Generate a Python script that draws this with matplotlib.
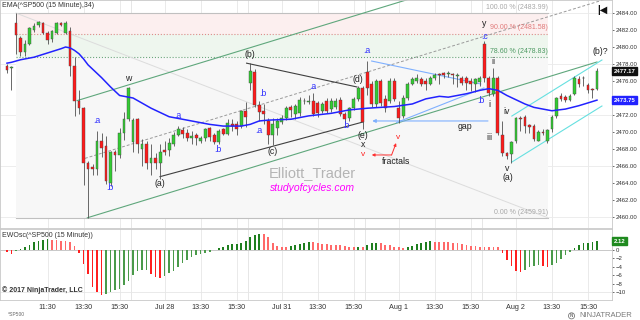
import numpy as np
import matplotlib
matplotlib.use('Agg')
import matplotlib.pyplot as plt
from matplotlib.transforms import blended_transform_factory

plt.rcParams['font.family'] = ['Liberation Sans', 'DejaVu Sans']

# ---------------- data (15-minute bars, ^SP500) ----------------
opens = [2477.8, 2477.5, 2482.8, 2481.1, 2479.4, 2480.4, 2482.0, 2482.6, 2482.8, 2481.6,
         2480.9, 2481.7, 2482.8, 2481.7, 2481.9, 2477.8, 2473.7, 2472.8, 2466.3, 2465.9,
         2465.6, 2468.9, 2468.3, 2464.0, 2467.7, 2467.3, 2469.9, 2471.5, 2468.8, 2471.5,
         2468.0, 2468.6, 2466.3, 2466.9, 2466.3, 2467.9, 2467.9, 2468.6, 2469.7, 2470.2,
         2469.9, 2469.3, 2469.6, 2469.0, 2469.3, 2470.5, 2469.6, 2468.8, 2470.3, 2469.8,
         2471.0, 2470.9, 2470.7, 2472.5, 2475.8, 2477.1, 2473.2, 2472.5, 2471.3, 2469.7,
         2470.5, 2471.2, 2471.6, 2472.9, 2472.1, 2472.2, 2473.7, 2473.5, 2473.7, 2473.4,
         2472.5, 2473.7, 2472.7, 2473.0, 2473.8, 2472.1, 2471.6, 2472.8, 2473.9, 2475.2,
         2477.1, 2475.7, 2473.3, 2476.0, 2473.9, 2473.7, 2476.0, 2472.8, 2471.9, 2474.0,
         2475.7, 2476.0, 2476.2, 2476.0, 2475.7, 2476.3, 2476.8, 2476.9, 2476.8, 2476.8,
         2476.6, 2476.4, 2476.4, 2476.0, 2475.6, 2475.9, 2480.4, 2476.3, 2474.5, 2476.4,
         2469.7, 2467.5, 2467.4, 2468.9, 2471.7, 2471.8, 2470.8, 2470.7, 2469.0, 2470.0,
         2468.9, 2470.3, 2471.9, 2474.2, 2474.1, 2473.8, 2474.5, 2476.2, 2476.4, 2475.5,
         2475.1, 2475.1]
highs = [2478.0, 2477.8, 2484.0, 2481.3, 2480.8, 2482.4, 2482.8, 2483.1, 2483.0, 2481.9,
         2482.0, 2483.0, 2483.0, 2483.1, 2482.3, 2478.8, 2474.9, 2472.9, 2466.6, 2466.2,
         2470.1, 2469.9, 2469.5, 2467.8, 2467.9, 2470.5, 2472.3, 2475.3, 2471.6, 2471.7,
         2469.2, 2469.0, 2468.6, 2467.5, 2468.6, 2469.0, 2469.3, 2470.0, 2470.7, 2470.6,
         2470.4, 2470.1, 2469.9, 2469.5, 2470.5, 2470.6, 2469.9, 2470.4, 2470.5, 2471.5,
         2471.5, 2471.3, 2472.6, 2473.5, 2478.1, 2477.4, 2473.7, 2473.3, 2471.6, 2471.6,
         2471.6, 2472.0, 2473.1, 2473.2, 2473.3, 2474.1, 2474.0, 2474.3, 2474.6, 2473.6,
         2473.5, 2474.0, 2474.0, 2474.0, 2474.1, 2472.4, 2473.0, 2474.1, 2475.4, 2475.4,
         2478.4, 2476.0, 2476.2, 2476.2, 2474.3, 2476.3, 2476.3, 2473.7, 2474.3, 2475.9,
         2476.5, 2476.8, 2476.5, 2476.3, 2476.6, 2477.0, 2476.9, 2477.1, 2477.2, 2476.9,
         2476.9, 2476.6, 2476.6, 2476.3, 2476.4, 2476.6, 2480.7, 2476.6, 2477.5, 2476.6,
         2471.3, 2467.7, 2469.0, 2471.8, 2471.9, 2472.0, 2471.0, 2471.0, 2470.2, 2470.3,
         2470.4, 2472.0, 2474.1, 2474.6, 2474.4, 2474.5, 2476.6, 2476.6, 2476.6, 2475.8,
         2475.2, 2477.5]
lows = [2477.0, 2475.0, 2479.2, 2478.9, 2479.0, 2480.2, 2481.8, 2482.4, 2481.5, 2480.4,
        2480.6, 2481.5, 2482.5, 2481.5, 2476.6, 2471.9, 2472.1, 2463.8, 2459.91, 2464.9,
        2465.0, 2467.1, 2463.9, 2463.7, 2465.4, 2466.9, 2469.1, 2471.3, 2467.6, 2467.5,
        2466.0, 2465.6, 2464.9, 2465.6, 2464.5, 2467.3, 2467.2, 2468.3, 2469.5, 2469.3,
        2469.0, 2468.6, 2468.5, 2468.7, 2469.0, 2468.9, 2468.6, 2468.6, 2469.6, 2469.6,
        2470.1, 2469.6, 2470.5, 2470.6, 2475.0, 2472.9, 2471.3, 2470.9, 2468.6, 2468.5,
        2469.6, 2470.9, 2471.4, 2471.8, 2471.5, 2471.9, 2473.3, 2473.3, 2471.9, 2471.8,
        2472.2, 2472.2, 2472.4, 2472.7, 2471.9, 2471.1, 2471.3, 2472.6, 2473.7, 2470.3,
        2474.3, 2473.0, 2473.0, 2473.1, 2472.4, 2473.4, 2473.6, 2471.1, 2471.6, 2473.8,
        2475.5, 2475.8, 2475.4, 2475.0, 2475.5, 2476.1, 2475.6, 2476.4, 2476.5, 2475.6,
        2475.3, 2475.5, 2474.9, 2474.8, 2474.7, 2475.4, 2475.9, 2474.2, 2474.2, 2469.6,
        2467.2, 2466.8, 2466.3, 2468.7, 2470.1, 2469.9, 2469.9, 2469.0, 2468.9, 2469.6,
        2468.7, 2470.0, 2471.7, 2473.6, 2473.5, 2473.6, 2474.3, 2475.3, 2475.4, 2474.6,
        2474.0, 2474.9]
closes = [2477.3, 2477.6, 2481.4, 2479.4, 2480.4, 2482.2, 2482.5, 2482.9, 2481.7, 2480.8,
          2481.9, 2482.8, 2482.6, 2482.8, 2477.8, 2473.7, 2472.8, 2466.3, 2465.7, 2465.6,
          2468.9, 2468.1, 2464.2, 2467.7, 2467.3, 2469.9, 2471.5, 2475.2, 2471.4, 2468.6,
          2468.6, 2466.3, 2466.9, 2466.3, 2467.7, 2467.6, 2468.7, 2469.7, 2470.3, 2469.8,
          2469.3, 2469.5, 2469.3, 2469.3, 2470.3, 2469.4, 2468.8, 2470.1, 2469.8, 2471.1,
          2470.7, 2470.3, 2472.5, 2471.8, 2477.2, 2473.2, 2472.4, 2472.1, 2469.7, 2470.9,
          2471.3, 2471.6, 2472.8, 2472.6, 2473.1, 2473.8, 2473.6, 2473.6, 2472.1, 2472.2,
          2473.3, 2472.5, 2473.7, 2473.7, 2472.1, 2471.5, 2472.8, 2473.9, 2475.2, 2471.2,
          2475.2, 2473.3, 2476.0, 2473.4, 2472.8, 2476.0, 2473.9, 2471.6, 2474.0, 2475.7,
          2476.2, 2476.4, 2475.7, 2475.6, 2476.3, 2476.7, 2476.7, 2476.7, 2476.9, 2476.7,
          2476.7, 2475.8, 2475.8, 2475.6, 2476.2, 2476.3, 2476.3, 2474.6, 2476.4, 2469.9,
          2467.5, 2467.2, 2468.8, 2471.6, 2471.5, 2470.7, 2470.6, 2469.2, 2470.0, 2469.9,
          2470.2, 2471.8, 2474.0, 2473.9, 2473.8, 2474.2, 2476.4, 2475.7, 2476.3, 2475.0,
          2475.0, 2477.17]

# EMA(34) at selected bars
ema_bars = [0, 1, 3, 6, 9, 12, 13, 14, 15, 16, 17, 18, 21, 23, 25, 27, 28, 31, 32, 34,
            36, 38, 42, 45, 48, 52, 54, 56, 58, 63, 67, 72, 76, 80, 83, 86, 90, 93, 96, 98,
            102, 105, 107, 109, 111, 113, 115, 117, 121, 124, 127, 131]
ema_vals = [2478.1, 2478.2, 2478.5, 2478.8, 2479.3, 2479.8, 2480.0, 2479.9, 2479.6, 2479.2,
            2478.6, 2477.9, 2476.4, 2475.3, 2474.3, 2474.1, 2474.0, 2473.1, 2472.8, 2472.3,
            2471.8, 2471.6, 2471.2, 2470.9, 2470.7, 2470.7, 2470.9, 2471.3, 2471.4, 2471.5,
            2471.9, 2472.2, 2472.6, 2472.8, 2472.9, 2473.0, 2473.3, 2473.9, 2474.2, 2474.1,
            2474.5, 2474.9, 2475.1, 2474.9, 2474.3, 2473.8, 2473.3, 2472.9, 2472.5, 2472.7,
            2473.1, 2473.75]

# Elliott wave oscillator (one value per bar)
ewo = [-0.4, -1.0, -0.3, 0.2, 0.6, 1.2, 2.0, 2.1, 2.4, 2.6,
       2.4, 2.3, 2.2, 2.1, 1.8, 1.0, -0.8, -3.3, -5.8, -8.7,
       -10.1, -10.6, -10.4, -10.0, -9.5, -9.2, -8.3, -7.4, -5.9, -4.9,
       -4.8, -4.7, -5.8, -6.4, -6.7, -6.2, -5.5, -4.9, -4.0, -3.2,
       -2.4, -1.7, -1.2, -1.0, -0.8, -0.4, 0.1, 0.4, 0.8, 1.1,
       1.4, 1.5, 1.7, 2.1, 3.2, 3.6, 3.8, 3.7, 3.0, 1.6,
       1.0, 0.8, 0.7, 0.95, 1.2, 1.4, 1.7, 2.0, 1.9, 1.7,
       1.45, 1.4, 1.2, 1.18, 1.15, 0.95, 0.8, 0.65, 0.8, 0.65,
       1.2, 1.6, 1.75, 1.6, 1.3, 1.2, 0.8, 0.6, 0.55, 0.8,
       0.95, 1.4, 1.75, 2.0, 2.05, 2.0, 1.98, 1.95, 1.92, 1.75,
       1.6, 1.4, 1.2, 0.95, 0.93, 0.8, 0.78, 0.75, 0.7, 0.6,
       -0.6, -2.4, -3.8, -4.9, -5.2, -4.8, -4.1, -3.8, -3.6, -3.8,
       -4.0, -3.6, -3.0, -2.2, -1.2, -0.4, 0.4, 1.2, 1.6, 1.65,
       1.8, 2.12]

tick_bars = [9, 17, 25, 35, 43, 51, 61, 69, 77, 87, 95, 103, 113, 121, 129]
tick_labels = ['11:30', '13:30', '15:30', 'Jul 28', '13:30', '15:30', 'Jul 31', '13:30',
               '15:30', 'Aug 1', '13:30', '15:30', 'Aug 2', '13:30', '15:30']
session_breaks = [27.5, 53.5, 79.5, 105.5]
price_ticks = [2460, 2462, 2464, 2466, 2468, 2470, 2472, 2474, 2476, 2478, 2480, 2482, 2484]
osc_ticks = [0, -2, -4, -6, -8, -10]

fib_levels = [2483.99, 2481.58, 2478.83, 2459.91]
fib_names = ['100.00 %', '90.00 %', '78.60 %', '0.00 %']

# ---------------- figure ----------------
fig = plt.figure(figsize=(6.4, 3.2), dpi=100)
AXW = 0.956
ax = fig.add_axes([0.0, 0.2875, AXW, 0.7125])
ax2 = fig.add_axes([0.0, 0.0625, AXW, 0.2219])

n = len(opens)
x = np.arange(n)
o = np.array(opens); h = np.array(highs); l = np.array(lows); c = np.array(closes)

XMIN, XMAX = -1.55, 134.3
for a in (ax, ax2):
    a.set_xlim(XMIN, XMAX)
    for s in a.spines.values():
        s.set_color('#c8c8c8')
        s.set_linewidth(0.6)
    for xb in tick_bars:
        a.axvline(xb, color='#e6e6e6', lw=0.6, zorder=0)
    for xb in session_breaks:
        a.axvline(xb, color='#e2e2e2', lw=0.6, zorder=0)
ax.set_ylim(2458.71, 2485.53)
ax2.set_ylim(-11.9, 5.0)

for gy in [2460, 2466, 2472, 2478, 2484]:
    ax.axhline(gy, color='#eaeaea', lw=0.6, zorder=0)

# Fibonacci zone
fx0, fx1 = 2, 120.1
ax.fill_between([fx0, fx1], fib_levels[1], fib_levels[0], color='#fcefef', zorder=0.5, lw=0)
ax.fill_between([fx0, fx1], fib_levels[2], fib_levels[1], color='#eef6ee', zorder=0.5, lw=0)
ax.fill_between([fx0, fx1], fib_levels[3], fib_levels[2], color='#f7f7f7', zorder=0.5, lw=0)
fib_line_colors = ['#c0c0c0', '#e08a8a', '#6aa87a', '#c0c0c0']
fib_line_styles = ['-', ':', ':', '-']
fib_text_colors = ['#a8a8a8', '#e07a7a', '#4f9a64', '#a8a8a8']
for lv, nm, lc, ls, tc in zip(fib_levels, fib_names, fib_line_colors, fib_line_styles, fib_text_colors):
    ax.plot([fx0, fx1], [lv, lv], color=lc, ls=ls, lw=0.8, zorder=1)
    ax.text(fx1, lv + 0.25, f'{nm} ({lv:.2f})', ha='right', va='bottom', fontsize=5,
            color=tc, zorder=6)
# fib anchor diagonal
ax.plot([fx0, fx1], [fib_levels[0], fib_levels[3]], color='#dcdcdc', lw=0.7, zorder=1)

# trend lines
def seg(p0, p1, **kw):
    ax.plot([p0[0], p1[0]], [p0[1], p1[1]], **kw)

green = dict(color='#5fa77c', lw=0.8, zorder=2)
slope = (2478.24 - 2459.91) / (131 - 17.83)
seg((17.83, 2459.91), (131.0, 2478.24), **green)
seg((15.6, 2473.7), (135.0, 2473.7 + slope * (135.0 - 15.6)), **green)
seg((17.3, 2466.9), (135.0, 2466.9 + slope * (135.0 - 17.3)),
    color='#9a9a9a', lw=0.7, ls=(0, (3, 2)), zorder=2)
seg((53.2, 2478.1), (77.7, 2475.3), color='#404040', lw=0.8, zorder=2)
seg((33.97, 2464.75), (79.04, 2471.18), color='#404040', lw=0.8, zorder=2)
seg((80.97, 2478.35), (105.2, 2475.65), color='#7fb0ff', lw=0.8, zorder=2)
seg((86.5, 2471.12), (105.9, 2475.18), color='#7fb0ff', lw=0.8, zorder=2)
seg((112.1, 2466.47), (132.1, 2473.06), color='#66e0e0', lw=0.8, zorder=2)
seg((112.1, 2471.88), (132.1, 2478.47), color='#66e0e0', lw=0.8, zorder=2)
ax.annotate('', xy=(81.1, 2471.3), xytext=(106.8, 2471.3),
            arrowprops=dict(arrowstyle='-|>', color='#7fb0ff', lw=0.8,
                            mutation_scale=5, shrinkA=0, shrinkB=0), zorder=2)

# candles
up = c >= o
body_col = np.where(up, '#33cc33', '#ff1a1a')
ax.vlines(x, l, h, color='#505050', lw=0.6, zorder=3)
ax.bar(x, np.maximum(np.abs(c - o), 0.08), bottom=np.minimum(o, c), width=0.62,
       color=body_col, edgecolor='#454545', linewidth=0.3, zorder=4)

# EMA
ax.plot(ema_bars, ema_vals, color='#2222ff', lw=1.1, zorder=5)

# fractal arrows
ax.annotate('', xy=(81.0, 2467.3), xytext=(85.4, 2467.3),
            arrowprops=dict(arrowstyle='-|>', color='#ff3030', lw=0.7,
                            mutation_scale=4, shrinkA=0, shrinkB=0))
ax.annotate('', xy=(86.4, 2468.7), xytext=(85.4, 2467.3),
            arrowprops=dict(arrowstyle='-|>', color='#ff3030', lw=0.7,
                            mutation_scale=4, shrinkA=0, shrinkB=0))

# wave labels
black_lbl = [('w', 26.9, 2476.3), ('(a)', 34.0, 2464.0), ('(b)', 53.95, 2479.1),
             ('(c)', 59.0, 2467.7), ('(d)', 78.0, 2476.2), ('(e)', 79.0, 2469.6),
             ('x', 79.0, 2468.5), ('fractals', 86.3, 2466.5), ('gap', 101.7, 2470.7),
             ('y', 106.0, 2482.8), ('i', 107.1, 2473.2), ('ii', 108.0, 2478.3),
             ('iii', 107.0, 2469.3), ('iv', 110.9, 2472.4), ('v', 111.1, 2465.7),
             ('(a)', 111.3, 2464.7), ('(b)?', 131.7, 2479.5)]
blue_lbl = [('.a', 20.05, 2471.3), ('.b', 22.9, 2463.5), ('.a', 37.9, 2472.0),
            ('.b', 46.9, 2467.9), ('.b', 56.9, 2474.55), ('.a', 55.95, 2470.15),
            ('.a', 68.0, 2475.3), ('.b', 75.3, 2470.8), ('.a', 80.0, 2479.6),
            ('.c', 106.0, 2481.2), ('.b', 105.2, 2473.7)]
red_lbl = [('v', 79.0, 2467.3), ('v', 86.9, 2469.4)]
for t, bx, py in black_lbl:
    ax.text(bx, py, t, ha='center', va='center', fontsize=6.3, color='#222222', zorder=7)
for t, bx, py in blue_lbl:
    ax.text(bx, py, t, ha='center', va='center', fontsize=6.3, color='#3030ff', zorder=7)
for t, bx, py in red_lbl:
    ax.text(bx, py, t, ha='center', va='center', fontsize=6, color='#ff2020', zorder=7)

ax.text(67.8, 2465.2, 'Elliott_Trader', ha='center', va='center', fontsize=10.5,
        color='#b4b4b4', zorder=7)
ax.text(67.8, 2463.4, 'studyofcycles.com', ha='center', va='center', fontsize=7.5,
        color='#ff00ff', style='italic', zorder=7)
ax.text(0.004, 0.992, 'EMA(^SP500 (15 Minute),34)', transform=ax.transAxes,
        ha='left', va='top', fontsize=5, color='#333333')
ax.text(0.985, 0.955, '|◀', transform=ax.transAxes, ha='center', va='center',
        fontsize=7, fontweight='bold', color='#111111')

# price axis (the 2474 label sits under the EMA value box, as in the reference)
ax.yaxis.tick_right()
ax.set_yticks(price_ticks)
ax.set_yticklabels(['' if v == 2474 else f'{v:.2f}' for v in price_ticks])
ax.tick_params(axis='y', labelsize=4.3, length=1.5, pad=1.5, colors='#333333', width=0.5)
ax.set_xticks([])
bt = blended_transform_factory(ax.transAxes, ax.transData)
ax.text(1.003, closes[-1], f'{closes[-1]:.2f}', transform=bt, ha='left', va='center',
        fontsize=4.3, color='white', fontweight='bold', clip_on=False, zorder=10,
        bbox=dict(boxstyle='square,pad=0.25', fc='#111111', ec='#111111'))
ax.text(1.003, ema_vals[-1], f'{ema_vals[-1]:.2f}', transform=bt, ha='left', va='center',
        fontsize=4.3, color='white', fontweight='bold', clip_on=False, zorder=10,
        bbox=dict(boxstyle='square,pad=0.25', fc='#2222ff', ec='#2222ff'))

# oscillator
ev = np.array(ewo)
prev = np.concatenate([[ev[0] + 0.1], ev[:-1]])
rising = ev >= prev
ocol = np.where(rising, np.where(ev >= 0, '#1f7f1f', '#4a9a4a'),
                np.where(ev >= 0, '#ff6a6a', '#ff1f1f'))
ax2.axhline(0, color='#c8c8c8', lw=0.7, zorder=1)
ax2.axhline(-10, color='#e6e6e6', lw=0.6, zorder=0)
ax2.bar(x, ev, width=0.38, color=ocol, zorder=3)
ax2.yaxis.tick_right()
ax2.set_yticks(osc_ticks)
ax2.tick_params(axis='y', labelsize=4.3, length=1.5, pad=1.5, colors='#333333', width=0.5)
ax2.set_xticks(tick_bars)
ax2.set_xticklabels(tick_labels)
ax2.tick_params(axis='x', labelsize=5.2, length=0, pad=3, colors='#333333')
bt2 = blended_transform_factory(ax2.transAxes, ax2.transData)
ax2.text(1.003, ewo[-1], f'{ewo[-1]:.2f}', transform=bt2, ha='left', va='center',
         fontsize=4.3, color='white', fontweight='bold', clip_on=False, zorder=10,
         bbox=dict(boxstyle='square,pad=0.25', fc='#1f8a1f', ec='#1f8a1f'))
ax2.text(0.004, 0.96, 'EWOsc(^SP500 (15 Minute))', transform=ax2.transAxes,
         ha='left', va='top', fontsize=5, color='#333333')
ax2.text(0.004, 0.08, '© 2017 NinjaTrader, LLC', transform=ax2.transAxes,
         ha='left', va='bottom', fontsize=5, color='#333333', fontweight='bold')

fig.text(0.012, 0.012, '^SP500', fontsize=3.5, color='#666666')
fig.text(0.893, 0.013, 'N', fontsize=3.3, color='#7a7a7a', fontweight='bold',
         ha='center', va='center',
         bbox=dict(boxstyle='circle,pad=0.12', fc='none', ec='#7a7a7a', lw=0.6))
fig.text(0.905, 0.013, 'NINJATRADER', fontsize=5.5, color='#7a7a7a', va='center')

fig.savefig('out.png', dpi=100)
